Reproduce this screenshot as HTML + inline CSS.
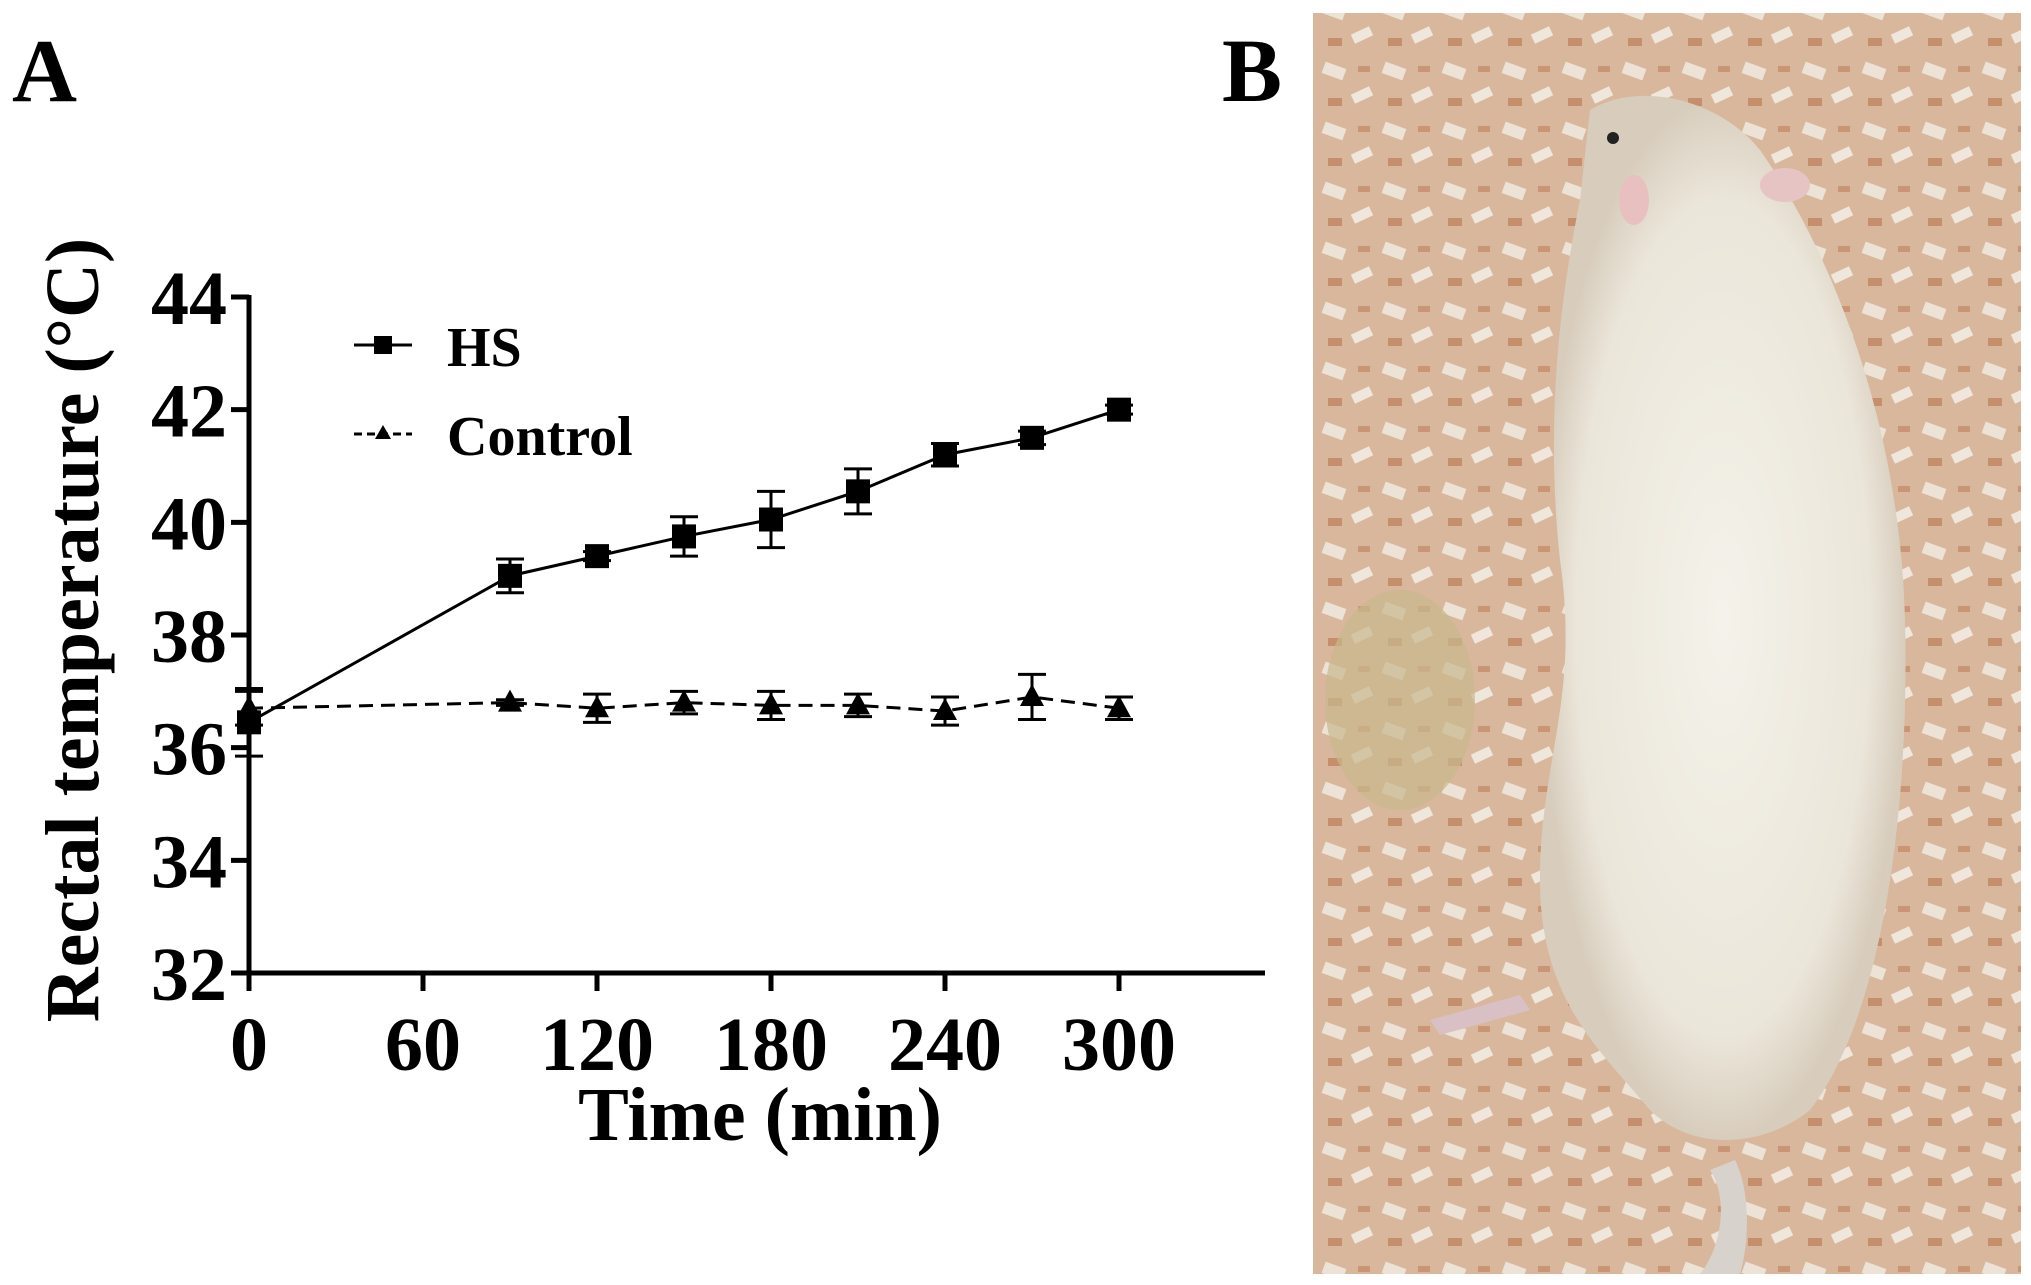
<!DOCTYPE html>
<html><head><meta charset="utf-8"><style>
html,body{margin:0;padding:0;background:#fff;width:2031px;height:1285px;overflow:hidden}
svg text{font-family:"Liberation Serif",serif;font-weight:bold;fill:#000}
</style></head><body>
<svg width="2031" height="1285" viewBox="0 0 2031 1285">
<defs>
<radialGradient id="rat" cx="50%" cy="50%" r="50%"><stop offset="0" stop-color="#f4f2ea"/><stop offset="0.8" stop-color="#ebe6da"/><stop offset="1" stop-color="#d8cdbd"/></radialGradient>
<pattern id="shav" width="60" height="60" patternUnits="userSpaceOnUse">
<rect width="60" height="60" fill="#d9b79d"/>
<rect x="3" y="5" width="22" height="12" fill="#ede2d6" transform="rotate(20 14 11)"/>
<rect x="32" y="30" width="20" height="10" fill="#f0e7dc" transform="rotate(-25 42 35)"/>
<rect x="8" y="38" width="14" height="8" fill="#c58e6c"/>
<rect x="38" y="6" width="12" height="6" fill="#c99574"/>
</pattern>
</defs>
<text x="12" y="101" font-size="90">A</text>
<text x="1222" y="101" font-size="90">B</text>
<g id="chart"></g>
<g>
<rect x="1313" y="13" width="708" height="1261" fill="url(#shav)"/>
<ellipse cx="1400" cy="700" rx="75" ry="110" fill="#c8b88d" opacity="0.7"/>
<path d="M1590 110 C1640 80 1720 100 1760 150 C1830 250 1900 420 1905 620 C1910 820 1880 1020 1810 1110 C1760 1150 1690 1150 1650 1110 C1600 1050 1540 1000 1540 880 C1540 760 1580 700 1560 560 C1545 420 1560 300 1580 200 Z" fill="url(#rat)"/>
<ellipse cx="1785" cy="185" rx="25" ry="17" fill="#e6c4c4"/>
<ellipse cx="1634" cy="200" rx="15" ry="25" fill="#e8c0c0"/>
<circle cx="1613" cy="138" r="6" fill="#222"/>
<path d="M1430 1020 L1520 995 L1530 1010 L1440 1035 Z" fill="#d9c0c4"/>
<path d="M1710 1170 C1730 1200 1720 1250 1700 1274 L1740 1274 C1750 1240 1750 1190 1735 1160 Z" fill="#d8d2cc"/>
</g>
</svg>
<script>
const timesHS=[0,90,120,150,180,210,240,270,300];
const hsMean=[36.45,39.05,39.4,39.75,40.05,40.55,41.2,41.5,42.0];
const hsErr=[0.6,0.3,0.08,0.35,0.5,0.4,0.2,0.12,0.08];
const ctlMean=[36.7,36.8,36.7,36.8,36.75,36.75,36.65,36.9,36.7];
const ctlErr=[0.3,0.05,0.25,0.2,0.25,0.2,0.25,0.4,0.2];
const xTicks=[0,60,120,180,240,300];
const yTicks=[32,34,36,38,40,42,44];
const NS='http://www.w3.org/2000/svg';
const g=document.getElementById('chart');
const x=v=>249+v*(1119-249)/300;
const y=v=>973-(v-32)*(973-297)/12;
function el(t,a,p){const e=document.createElementNS(NS,t);for(const k in a)e.setAttribute(k,a[k]);(p||g).appendChild(e);return e;}
let ax=el('path',{d:`M${x(0)} ${y(44)-2} V${y(32)} H1265`,fill:'none',stroke:'#000','stroke-width':5});


yTicks.forEach(v=>{
 let t=el('line',{x1:x(0)-18,x2:x(0),y1:y(v),y2:y(v),stroke:'#000','stroke-width':5});
 
 
 let l=el('text',{x:x(0)-22,y:y(v)+27,'font-size':76,'text-anchor':'end'});l.textContent=v;
 
 
});
xTicks.forEach(v=>{
 let t=el('line',{x1:x(v),x2:x(v),y1:y(32),y2:y(32)+18,stroke:'#000','stroke-width':5});
 
 
 let l=el('text',{x:x(v),y:1070,'font-size':76,'text-anchor':'middle'});l.textContent=v;
 
 
});
let xt=el('text',{x:760,y:1140,'font-size':76,'text-anchor':'middle'});xt.textContent='Time (min)';


let yt=el('text',{x:0,y:0,'font-size':76,'text-anchor':'middle',transform:'translate(98,630) rotate(-90)'});yt.textContent='Rectal  temperature (°C)';


function series(mean,err,dash,marker,name){
 let d=mean.map((m,i)=>(i?'L':'M')+x(timesHS[i])+' '+y(m)).join(' ');
 let p=el('path',{d,fill:'none',stroke:'#000','stroke-width':3,'stroke-dasharray':dash});
 
 
 mean.forEach((m,i)=>{
  const cx=x(timesHS[i]),t=y(m+err[i]),b=y(m-err[i]);
  let e=el('path',{d:`M${cx} ${t}V${b}M${cx-14} ${t}H${cx+14}M${cx-14} ${b}H${cx+14}`,stroke:'#000','stroke-width':3,fill:'none'});
  
  
  let mk=marker==='sq'?el('rect',{x:cx-12,y:y(m)-12,width:24,height:24,fill:'#000'}):el('path',{d:`M${cx} ${y(m)-13}L${cx+12} ${y(m)+9}L${cx-12} ${y(m)+9}Z`,fill:'#000'});
  
  
 });
}
series(ctlMean,ctlErr,'14 8','tri','control');
series(hsMean,hsErr,'','sq','hs');
let l1=el('path',{d:'M354 345H412',stroke:'#000','stroke-width':3});


let m1=el('rect',{x:374,y:336,width:18,height:18,fill:'#000'});


let t1=el('text',{x:447,y:366,'font-size':56});t1.textContent='HS';


let l2=el('path',{d:'M354 434H412',stroke:'#000','stroke-width':3,'stroke-dasharray':'8 5'});


let m2=el('path',{d:'M383 425L391 439L375 439Z',fill:'#000'});


let t2=el('text',{x:447,y:455,'font-size':56});t2.textContent='Control';


</script>
</body></html>
